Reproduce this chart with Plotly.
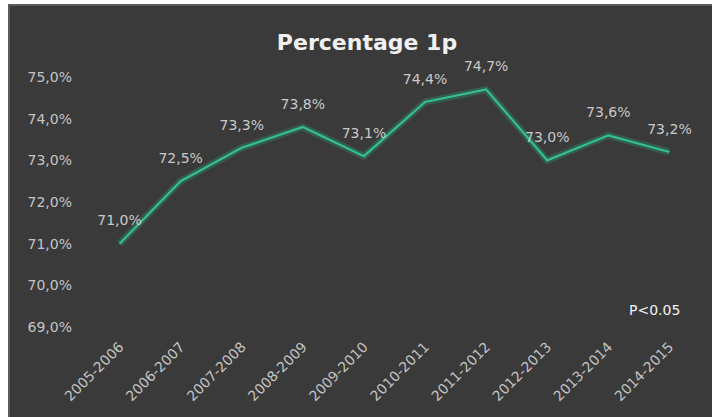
import plotly.graph_objects as go

categories = ["2005-2006", "2006-2007", "2007-2008", "2008-2009", "2009-2010",
              "2010-2011", "2011-2012", "2012-2013", "2013-2014", "2014-2015"]
values = [71.0, 72.5, 73.3, 73.8, 73.1, 74.4, 74.7, 73.0, 73.6, 73.2]
y_ticks = [69, 70, 71, 72, 73, 74, 75]
y_tick_labels = ["69,0%", "70,0%", "71,0%", "72,0%", "73,0%", "74,0%", "75,0%"]
point_labels = [f"{v:.1f}".replace(".", ",") + "%" for v in values]

L, R, T, B = 89, 12, 77, 90
W, H = 712, 417
pw, ph = W - L - R, H - T - B

def px_x(p):
    return (p - L) / pw

def px_y(p):
    return (H - B - p) / ph

fig = go.Figure()
# soft glow under the line
fig.add_trace(go.Scatter(
    x=categories, y=values, mode="lines",
    line=dict(color="rgba(40,190,140,0.25)", width=7),
    hoverinfo="skip", showlegend=False))
fig.add_trace(go.Scatter(
    x=categories, y=values, mode="lines+markers+text",
    line=dict(color="#33bf93", width=2.2),
    marker=dict(size=22, color="rgba(0,0,0,0)"),
    text=point_labels, textposition="top center", cliponaxis=False,
    textfont=dict(family="DejaVu Sans", size=14, color="#c9c9c9"),
    showlegend=False))

fig.add_shape(type="rect", xref="paper", yref="paper",
              x0=px_x(9), x1=px_x(730), y0=px_y(440), y1=px_y(5),
              fillcolor="#3a3a3a", line=dict(color="#5a5a5a", width=2),
              layer="below")

fig.add_annotation(text="P<0.05", xref="paper", yref="paper",
                   x=px_x(654), y=px_y(310), xanchor="center", yanchor="middle",
                   showarrow=False,
                   font=dict(family="DejaVu Sans", size=14, color="#f2f2f2"))

fig.update_layout(
    width=W, height=H,
    margin=dict(l=L, r=R, t=T, b=B, autoexpand=False),
    paper_bgcolor="white",
    plot_bgcolor="rgba(0,0,0,0)",
    title=dict(text="<b>Percentage 1p</b>", x=px_x(367), xref="paper", xanchor="center",
               y=1 - 42 / H, yref="container", yanchor="middle",
               font=dict(family="DejaVu Sans", size=22, color="#f0f0f0")),
    xaxis=dict(range=[-0.5, 9.5], showgrid=False, zeroline=False, showline=False,
               automargin=False,
               tickangle=-45, ticks="", ticklabelstandoff=8,
               tickfont=dict(family="DejaVu Sans", size=14, color="#c4c4c4")),
    yaxis=dict(range=[69, 75], showgrid=False, zeroline=False, showline=False,
               automargin=False,
               tickvals=y_ticks, ticktext=y_tick_labels, ticks="",
               ticklabelstandoff=16,
               tickfont=dict(family="DejaVu Sans", size=14, color="#c4c4c4")),
)

fig.write_html("out.html", config={"displayModeBar": False},
               post_script="document.body.style.margin='0';document.body.style.overflow='hidden';")
